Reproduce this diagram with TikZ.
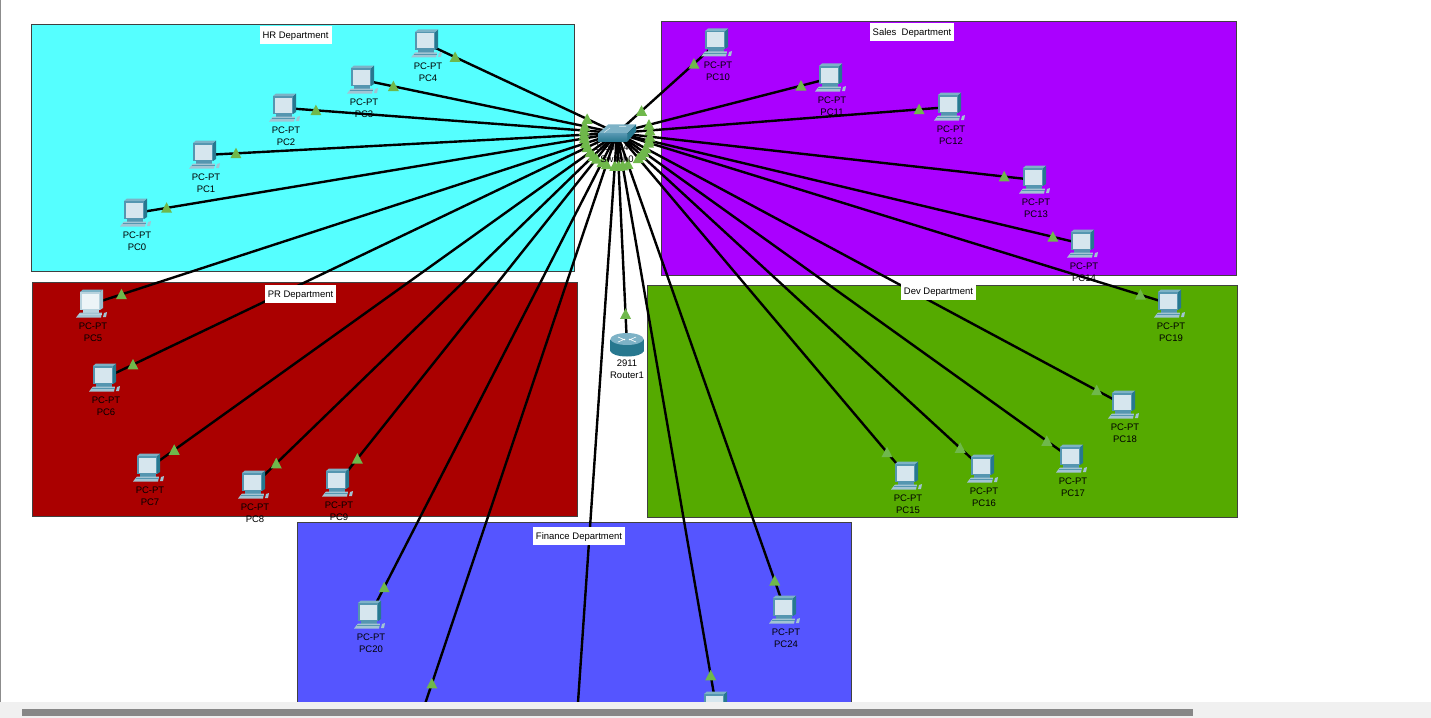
\documentclass[tikz,border=0pt]{standalone}
\usepackage{fontspec}
\setmainfont{Liberation Sans}
\usepackage{tikz}
\usetikzlibrary{shapes.geometric, calc}

\definecolor{hrcyan}{HTML}{55FFFF}
\definecolor{salespurple}{HTML}{AA00FF}
\definecolor{prred}{HTML}{AA0000}
\definecolor{devgreen}{HTML}{55AA00}
\definecolor{financeblue}{HTML}{5555FF}
\definecolor{linkgreen}{HTML}{6FB84B}
\definecolor{pcframe}{HTML}{5596B0}
\definecolor{pcside}{HTML}{27788F}
\definecolor{pctop}{HTML}{7DB2C6}
\definecolor{pcscreen}{HTML}{D6E6EE}
\definecolor{pckeys}{HTML}{A2C4D3}
\definecolor{paleframe}{HTML}{B9D3DE}
\definecolor{paleside}{HTML}{9CBFCE}
\definecolor{palescreen}{HTML}{EDF4F7}

\pgfdeclarelayer{lights}
\pgfdeclarelayer{top}
\pgfsetlayers{main,lights,top}

% Icon of a PC, drawn round the middle of its node
\newcommand{\pcicon}[3]{
    \begin{scope}[shift={(path picture bounding box.center)}, shift={(1,1)}]
        \fill[#2] (8,-12) -- (11,-14.5) -- (11,4) -- (8,6) -- cycle;
        \fill[pctop] (-12,-12) -- (-9,-14.5) -- (11,-14.5) -- (8,-12) -- cycle;
        \fill[#1] (-12,-12) rectangle (8,6);
        \fill[#3] (-10.5,-10.5) rectangle (6.5,4.5);
        \fill[#1] (-9,6) rectangle (7,9);
        \fill[pckeys] (-12,8.5) -- (10,8.5) -- (9,13.5) -- (-16,13.5) -- cycle;
        \draw[#1, line width=.7pt] (-13.5,10.5) -- (9.5,10.5);
        \fill[pckeys] (12,9) -- (15,8) -- (14,13) -- (11,13) -- cycle;
    \end{scope}
}

% A PC: its text below the links, its icon above them
\newcommand{\addpc}[5][pcnode]{
    \node[devtext] (#2text) at (#3+1,#4+28) {PC-PT\\#5};
    \begin{pgfonlayer}{top}
        \node[#1] (#2) at (#3,#4) {};
    \end{pgfonlayer}
}

% A link from the switch, with one light at each end
\newcommand{\addlink}[1]{
    \draw[linkline] (sw.center) -- (#1.center);
    \begin{pgfonlayer}{lights}
        \node[linkup] (#1far) at ($(#1)!31pt!(sw)$) {};
        \node[linkup] (#1near) at ($(sw)!33pt!(#1)$) {};
    \end{pgfonlayer}
}

\begin{document}
\begin{tikzpicture}[
                x=1pt, y=-1pt,
                deptarea/.style={draw=black!75, line width=.6pt}, % Coloured room
                deptlabel/.style={fill=white, minimum height=18pt, text height=7pt, text depth=0pt, inner xsep=3pt, inner ysep=0pt, font=\fontsize{9.5}{12}\selectfont}, % Room title
                devtext/.style={align=center, inner sep=0pt, font=\fontsize{9.5}{12}\selectfont}, % Text under a device
                pcnode/.style={minimum width=36pt, minimum height=32pt, inner sep=0pt, path picture={\pcicon{pcframe}{pcside}{pcscreen}}},
                palepc/.style={minimum width=36pt, minimum height=32pt, inner sep=0pt, path picture={\pcicon{paleframe}{paleside}{palescreen}}},
                linkline/.style={draw=black, line width=2.4pt},
                linkup/.style={isosceles triangle, isosceles triangle stretches, shape border rotate=90, fill=linkgreen, minimum width=11pt, minimum height=10.5pt, inner sep=0pt, yshift=-1.5pt} % Link light
                ]
                \useasboundingbox (0,0) rectangle (1431,717);
                \fill[white] (0,0) rectangle (1431,717);

                % Rooms
                \filldraw[deptarea, fill=hrcyan] (31.5,24.5) rectangle (574.5,271.5);
                \filldraw[deptarea, fill=salespurple] (661.5,21.5) rectangle (1236.5,275.5);
                \filldraw[deptarea, fill=prred] (32.5,282.5) rectangle (577.5,516.5);
                \filldraw[deptarea, fill=devgreen] (647.5,285.5) rectangle (1237.5,517.5);
                \filldraw[deptarea, fill=financeblue] (297.5,522.5) rectangle (851.5,710);

                % Devices
                \node[devtext] (swmodel) at (617,147) {2960-24TT};
                \begin{pgfonlayer}{top}
                    \node[devtext] (swtext) at (617,159) {Switch0};
                    \node[minimum width=42pt, minimum height=24pt, inner sep=0pt, path picture={
                        \begin{scope}[shift={(path picture bounding box.center)}]
                            \fill[pctop] (-19,.7) -- (-8.7,-8.7) -- (19,-8.7) -- (10.3,.7) -- cycle;
                            \shade[top color=pcframe, bottom color=pcside] (-19,.7) rectangle (10.3,8.7);
                            \fill[pcside] (10.3,.7) -- (19,-8.7) -- (19,-1.4) -- (10.3,8.7) -- cycle;
                            \draw[white!80!pctop, line width=.5pt] (-13,-.5) -- (-7,-5) (2,-6.5) -- (9,-6.5);
                        \end{scope}
                    }] (sw) at (617,133) {};
                \end{pgfonlayer}

                \node[devtext] (routertext) at (627,369) {2911\\Router1};
                \begin{pgfonlayer}{top}
                    \node[minimum width=38pt, minimum height=28pt, inner sep=0pt, path picture={
                        \begin{scope}[shift={(path picture bounding box.center)}]
                            \shade[left color=pcside, middle color=pctop!40!white, right color=pcside] (-16.5,-6) rectangle (16.5,6);
                            \shade[left color=pcside, middle color=pctop!40!white, right color=pcside] (0,6) ellipse (16.5 and 5.5);
                            \fill[pctop] (0,-6) ellipse (16.5 and 6);
                            \draw[white, line width=.6pt] (-9,-8) -- (-2,-5) (9,-8) -- (2,-5) (-9,-3) -- (-2,-6) (9,-3) -- (2,-6);
                        \end{scope}
                    }] (router) at (627,345) {};
                \end{pgfonlayer}

                \addpc{pc0}{136}{213}{PC0}
                \addpc{pc1}{205}{155}{PC1}
                \addpc{pc2}{285}{108}{PC2}
                \addpc{pc3}{363}{80}{PC3}
                \addpc{pc4}{427}{44}{PC4}
                \addpc[palepc]{pc5}{92}{304}{PC5}
                \addpc{pc6}{105}{378}{PC6}
                \addpc{pc7}{149}{468}{PC7}
                \addpc{pc8}{254}{485}{PC8}
                \addpc{pc9}{338}{483}{PC9}
                \addpc{pc10}{717}{43}{PC10}
                \addpc{pc11}{831}{78}{PC11}
                \addpc{pc12}{950}{107}{PC12}
                \addpc{pc13}{1035}{180}{PC13}
                \addpc{pc14}{1083}{244}{PC14}
                \addpc{pc15}{907}{476}{PC15}
                \addpc{pc16}{983}{469}{PC16}
                \addpc{pc17}{1072}{459}{PC17}
                \addpc{pc18}{1124}{405}{PC18}
                \addpc{pc19}{1170}{304}{PC19}
                \addpc{pc20}{370}{615}{PC20}
                \addpc{pc24}{785}{610}{PC24}
                \begin{pgfonlayer}{top}
                    \node[pcnode] (pc23) at (716,706) {};
                \end{pgfonlayer}
                \coordinate (pc21) at (422,713); % below the window
                \coordinate (pc22) at (577,717);

                % Links
                \addlink{pc0}
                \addlink{pc1}
                \addlink{pc2}
                \addlink{pc3}
                \addlink{pc4}
                \addlink{pc5}
                \addlink{pc6}
                \addlink{pc7}
                \addlink{pc8}
                \addlink{pc9}
                \addlink{pc10}
                \addlink{pc11}
                \addlink{pc12}
                \addlink{pc13}
                \addlink{pc14}
                \addlink{pc15}
                \addlink{pc16}
                \addlink{pc17}
                \addlink{pc18}
                \addlink{pc19}
                \addlink{pc20}
                \addlink{pc21}
                \draw[linkline] (sw.center) -- (pc22);
                \begin{pgfonlayer}{lights}
                    \node[linkup] (pc22near) at ($(sw)!33pt!(pc22)$) {};
                \end{pgfonlayer}
                \addlink{pc23}
                \addlink{pc24}
                \addlink{router}

                % Room titles and window frame stay above everything
                \begin{pgfonlayer}{top}
                    \node[deptlabel] (hrlabel) at (295.5,35) {HR Department};
                    \node[deptlabel] (saleslabel) at (912,32.5) {Sales\ \ Department};
                    \node[deptlabel] (prlabel) at (300.5,294) {PR Department};
                    \node[deptlabel] (devlabel) at (938.5,291) {Dev Department};
                    \node[deptlabel] (financelabel) at (579,536) {Finance Department};

                    \fill[black!45] (0,0) rectangle (1.2,702);
                    \fill[black!6] (0,702) rectangle (1431,730);
                    \fill[black!47] (22,709) rectangle (1193,715.5);
                \end{pgfonlayer}
            \end{tikzpicture}
\end{document}
